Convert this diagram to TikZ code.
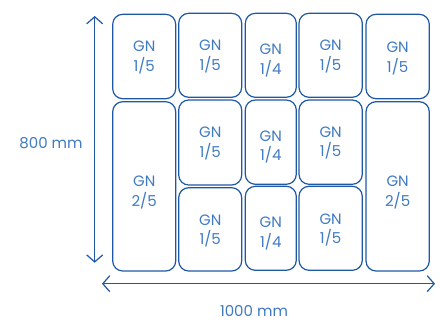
\documentclass[tikz,border=0pt]{standalone}
\usepackage{fontspec}
\setmainfont{Poppins}
\usetikzlibrary{arrows.meta}
\definecolor{boxline}{HTML}{1E58A4}
\definecolor{txt}{HTML}{3F7AC2}
\begin{document}
\begin{tikzpicture}[x=1pt,y=-1pt,
  pan/.style={draw=boxline,line width=1.2pt,rounded corners=10pt,inner sep=0pt},
  lbl/.style={text=txt,font=\fontsize{15}{19.5}\selectfont,align=center,inner sep=0pt},
  dim/.style={draw=boxline,line width=1.2pt,{Straight Barb[length=7pt,width=16pt]}-{Straight Barb[length=7pt,width=16pt]}}]
\useasboundingbox (0,0) rectangle (440,322);
% boxes: corners given as (x1,y1) (x2,y2)
\newcommand{\pbox}[5]{\node[pan,minimum width={#4-#2},minimum height={#5-#3}] (#1) at ({(#2+#4)/2},{(#3+#5)/2}) {};}
\pbox{a1}{112.7}{14.3}{175.7}{98.7}
\pbox{a2}{112.7}{101.7}{175.7}{271}
\pbox{b1}{178.7}{13.3}{241.7}{97.3}
\pbox{b2}{178.7}{100}{241.7}{185}
\pbox{b3}{178.7}{187.7}{241.7}{271}
\pbox{c1}{245.3}{13.3}{296.3}{97.3}
\pbox{c2}{245.3}{100}{296.3}{184.3}
\pbox{c3}{245.3}{186.3}{296.3}{270.3}
\pbox{d1}{299}{13.3}{362.3}{97.3}
\pbox{d2}{299}{100}{362.3}{184.3}
\pbox{d3}{299}{186.3}{362.3}{270.3}
\pbox{e1}{366}{14.3}{429.3}{98.7}
\pbox{e2}{366}{101.7}{429.3}{271}
% labels
\node[lbl] (ta1) at ([yshift=-1pt]a1.center) {GN\\1/5};
\node[lbl] (ta2) at ([yshift=-6pt]a2.center) {GN\\2/5};
\node[lbl] (tb1) at ([yshift=-1pt]b1.center) {GN\\1/5};
\node[lbl] (tb2) at ([yshift=-1pt]b2.center) {GN\\1/5};
\node[lbl] (tb3) at ([yshift=-1.5pt]b3.center) {GN\\1/5};
\node[lbl] (tc1) at ([yshift=-5pt]c1.center) {GN\\1/4};
\node[lbl] (tc2) at ([yshift=-5pt]c2.center) {GN\\1/4};
\node[lbl] (tc3) at ([yshift=-5pt]c3.center) {GN\\1/4};
\node[lbl] (td1) at ([yshift=-1pt]d1.center) {GN\\1/5};
\node[lbl] (td2) at ([yshift=-1pt]d2.center) {GN\\1/5};
\node[lbl] (td3) at ([yshift=-1.5pt]d3.center) {GN\\1/5};
\node[lbl] (te1) at ([yshift=-2pt]e1.center) {GN\\1/5};
\node[lbl] (te2) at ([yshift=-6pt]e2.center) {GN\\2/5};
% dimension arrows
\coordinate (vtop) at (94.7,16);
\coordinate (vbot) at (94.7,262.7);
\coordinate (hl) at (102,283.7);
\coordinate (hr) at (435,283.7);
\draw[dim] (vbot) -- (vtop);
\draw[dim] (hl) -- (hr);
\node[lbl] (h800) at (51,143) {800 mm};
\node[lbl] (w1000) at (254,311) {1000 mm};
\end{tikzpicture}
\end{document}
